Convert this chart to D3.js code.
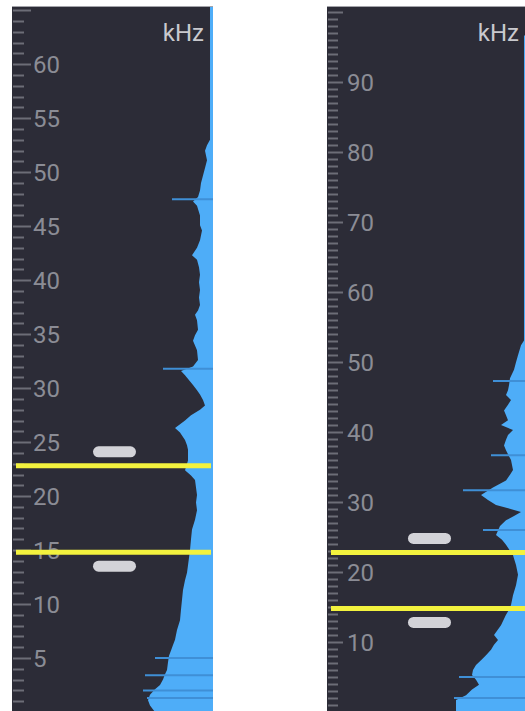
<!DOCTYPE html>
<html>
<head>
<meta charset="utf-8">
<script src="https://cdn.jsdelivr.net/npm/d3@7"></script>
<style>
  body { margin: 0; background: #ffffff; }
  svg { display: block; }
  .lbl { font-family: Roboto, "Noto Sans", sans-serif; }
</style>
</head>
<body>
<div id="chart"></div>
<script>
// ---- data ----
// left analyser: 0 - 65 kHz, level = how far the spectrum reaches in (% of panel width)
var leftFreq  = [65.3, 60, 56, 53.0, 52.5, 52.0, 51.1, 50.4, 49.7, 49.0, 48.3, 47.7, 47.3, 46.9, 46.0, 45.1, 44.6, 43.7, 43.0, 42.3, 41.9, 41.2, 40.5, 39.8, 39.1, 38.4, 37.7, 37.2, 36.8, 36.3, 35.4, 34.9, 34.4, 33.5, 32.6, 32.0, 31.6, 31.2, 30.3, 29.8, 29.4, 28.9, 28.4, 28.0, 27.5, 27.0, 26.3, 25.9, 25.2, 24.7, 24.3, 23.3, 22.4, 21.9, 21.5, 20.8, 20.1, 19.4, 18.7, 17.8, 16.9, 16.0, 15.0, 14.3, 13.6, 12.9, 12.2, 11.3, 10.4, 9.5, 8.5, 7.6, 6.7, 6.2, 5.7, 5.2, 4.6, 3.9, 3.5, 3.0, 2.5, 2.1, 1.6, 1.1, 0.6, 0.0];
var leftLevel = [1.5, 1.5, 1.5, 1.5, 3, 4, 3, 4, 5, 6, 6.5, 7.5, 10, 8, 6.5, 6.5, 5.5, 6.5, 8, 10.5, 8, 7, 6.5, 7, 6.5, 7, 6.5, 7.5, 9, 8, 7.5, 9, 10, 8, 7.5, 10, 16, 14, 10, 8, 6.5, 5, 4, 6.5, 11, 14, 19, 16.5, 14, 13, 12.5, 12.5, 14, 11, 9, 8.5, 8, 8.5, 8, 9, 10.5, 11, 11.5, 12, 12.5, 13, 14, 15, 15.5, 16, 16.5, 18, 19, 20, 21, 22, 22.5, 23, 24, 25, 26.5, 29, 31.5, 32.5, 31.5, 29];
var leftSpikeFreq  = [47.5, 31.8, 5.0, 3.4, 2.0, 1.3];
var leftSpikeLevel = [20.5, 25, 29, 34, 35, 33];

// right analyser: 0 - 100 kHz
var rightFreq  = [96.7, 80, 60, 53.1, 52.4, 51.0, 50.0, 48.9, 47.7, 46.7, 46.0, 45.3, 44.6, 43.9, 43.1, 42.4, 41.7, 41.0, 40.3, 39.6, 38.9, 38.1, 37.4, 36.0, 35.3, 34.6, 33.9, 33.1, 32.1, 31.0, 30.3, 29.6, 28.6, 28.0, 27.4, 26.6, 25.3, 24.6, 23.9, 22.4, 21.0, 19.6, 18.1, 16.7, 15.3, 14.6, 13.9, 12.4, 11.0, 10.3, 9.6, 8.9, 8.1, 7.4, 6.7, 6.0, 5.3, 4.6, 3.9, 3.2, 2.4, 1.7, 0.8, 0.0];
var rightLevel = [2, 2, 2, 2, 3.5, 5, 6, 7, 9, 9.5, 10, 11, 8.5, 10, 12, 11, 10, 13.5, 7.5, 10, 11, 12, 11, 8.5, 8, 7.5, 9, 11, 17.5, 23.5, 20, 16, 3.5, 7, 11, 14, 16, 13, 11, 7.5, 6, 5, 6, 7.5, 8.5, 9.5, 11, 13.5, 17, 15, 17, 18.5, 21, 23.5, 26, 27.5, 28, 26, 24.5, 28, 31, 36, 36, 36];
var rightSpikeFreq  = [47.3, 36.7, 31.7, 26.0, 5.0, 2.0];
var rightSpikeLevel = [17.5, 18.5, 32.5, 22.5, 34.5, 37];

var leftTicks  = [5, 10, 15, 20, 25, 30, 35, 40, 45, 50, 55, 60];
var rightTicks = [10, 20, 30, 40, 50, 60, 70, 80, 90];
var bandLow = 14.8, bandHigh = 22.8;   // yellow selection lines, kHz

// ---- drawing ----
var W = 525, H = 711;
var svg = d3.select("#chart").append("svg")
    .attr("width", W).attr("height", H);

function drawPanel(opt){
    var g = svg.append("g");
    var y = d3.scaleLinear().domain([0, opt.fmax]).range([712, 6]);
    var x = d3.scaleLinear().domain([0, 100]).range([opt.right, opt.right - 200]);

    g.append("rect")
        .attr("x", opt.left).attr("y", 6)
        .attr("width", opt.right - opt.left).attr("height", H - 6)
        .attr("fill", "#2c2c37");
    g.append("line")
        .attr("x1", opt.left).attr("x2", opt.right)
        .attr("y1", 6.5).attr("y2", 6.5)
        .attr("stroke", "#a4a4aa").attr("stroke-width", 1);

    // spectrum
    var data = opt.freq.map(function(f, i){ return {f: f, v: opt.level[i]}; });
    var area = d3.area()
        .y(function(d){ return y(d.f); })
        .x0(opt.right)
        .x1(function(d){ return x(d.v); });
    g.append("path").datum(data)
        .attr("d", area)
        .attr("fill", "#4eadf8");

    var spikes = opt.spikeF.map(function(f, i){ return {f: f, v: opt.spikeV[i]}; });
    g.selectAll(".spike").data(spikes).enter().append("line")
        .attr("class", "spike")
        .attr("x1", opt.right).attr("x2", function(d){ return x(d.v); })
        .attr("y1", function(d){ return y(d.f); })
        .attr("y2", function(d){ return y(d.f); })
        .attr("stroke", "#3f8fd6").attr("stroke-width", 2);

    // scale ticks on the left edge
    var minor = d3.range(1, Math.floor(opt.fmax) + 1);
    g.selectAll(".tick").data(minor).enter().append("line")
        .attr("class", "tick")
        .attr("x1", opt.left + 1)
        .attr("x2", function(d){ return opt.left + 1 + (d % opt.major === 0 ? opt.majorLen : opt.minorLen); })
        .attr("y1", function(d){ return Math.round(y(d)) + 0.5; })
        .attr("y2", function(d){ return Math.round(y(d)) + 0.5; })
        .attr("stroke", "#6c6d77").attr("stroke-width", 2);

    g.selectAll(".tl").data(opt.ticks).enter().append("text")
        .attr("class", "lbl")
        .attr("x", opt.left + opt.labelDx)
        .attr("y", function(d){ return y(d); })
        .attr("dy", "0.36em")
        .attr("fill", "#8b8c95")
        .attr("font-size", 24)
        .text(function(d){ return d; });

    g.append("text")
        .attr("class", "lbl")
        .attr("x", opt.unitX).attr("y", 41)
        .attr("text-anchor", "end")
        .attr("fill", "#c9c9ce")
        .attr("font-size", 24)
        .text("kHz");

    // selection lines + handles
    [bandHigh, bandLow].forEach(function(f, i){
        g.append("line")
            .attr("x1", opt.left + 4).attr("x2", opt.right - 2)
            .attr("y1", y(f)).attr("y2", y(f))
            .attr("stroke", "#f3f23e").attr("stroke-width", 5);
        g.append("rect")
            .attr("x", opt.left + 81)
            .attr("y", y(f) + (i === 0 ? -14 : 14) - 5.5)
            .attr("width", 43).attr("height", 11)
            .attr("rx", 5.5)
            .attr("fill", "#d3d3d8");
    });
}

drawPanel({left: 12, right: 213, fmax: 65.4, major: 5, minorLen: 11, majorLen: 18,
    labelDx: 21, unitX: 204, ticks: leftTicks,
    freq: leftFreq, level: leftLevel, spikeF: leftSpikeFreq, spikeV: leftSpikeLevel});

drawPanel({left: 327, right: 528, fmax: 100.9, major: 10, minorLen: 10, majorLen: 15,
    labelDx: 20, unitX: 519, ticks: rightTicks,
    freq: rightFreq, level: rightLevel, spikeF: rightSpikeFreq, spikeV: rightSpikeLevel});
</script>
</body>
</html>
